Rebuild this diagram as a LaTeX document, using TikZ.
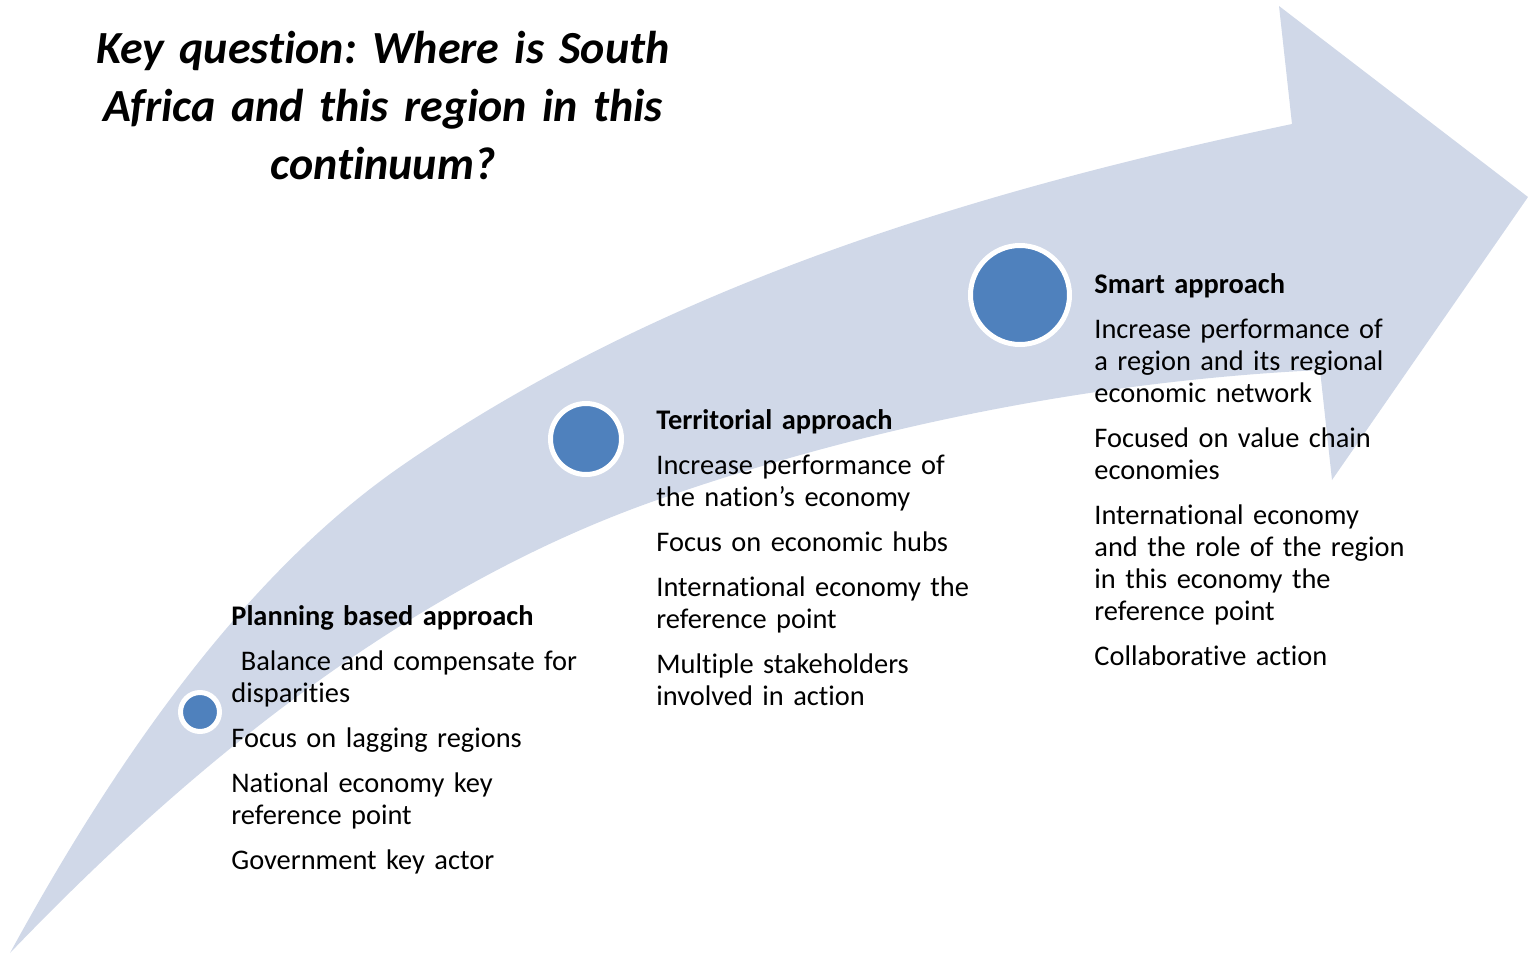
\documentclass[tikz,border=0pt]{standalone}
\usepackage{fontspec}
\setmainfont{Carlito}[Ligatures=NoCommon]
\definecolor{BandBlue}{HTML}{D0D8E8}
\definecolor{DotBlue}{HTML}{4F81BD}
\usepackage{tikz}
\usetikzlibrary{positioning}
\newcommand{\itemgap}{\\[6.5pt]}
\frenchspacing

\begin{document}
\begin{tikzpicture}[x=0.5pt,y=-0.5pt,
  dot/.style={circle,fill=DotBlue,draw=white,line width=2.5pt,inner sep=0pt},
  stage/.style={anchor=base west,inner sep=0pt,text width=215pt,align=left,
    font=\fontsize{14.2}{16}\selectfont}]
  \useasboundingbox (0,0) rectangle (1528,959);

  % curved band with its arrow head
  \fill[BandBlue] (10,953) .. controls (106,777) and (236,581) .. (400,467)
    .. controls (662,285) and (978,190) .. (1292,124)
    -- (1279,6) -- (1528,197) -- (1332,480) -- (1320,370)
    .. controls (1095,381) and (869,426) .. (657,500)
    .. controls (409,587) and (191,764) .. (10,953) -- cycle;

  \node[anchor=base,inner sep=0pt,text width=320pt,align=center,
    font=\fontsize{23}{29}\selectfont\bfseries\itshape] (question) at (383,63)
    {Key question: Where is South\\Africa and this region in this\\continuum?};

  % the three stages
  \node[dot,minimum size=19.5pt] (plandot) at (200,712) {};
  \node[dot,minimum size=35.5pt] (terrdot) at (586,439) {};
  \node[dot,minimum size=49.5pt] (smartdot) at (1020,295) {};

  \node[stage] (plan) at (231,625) {\textbf{Planning based approach}\itemgap
    \ Balance and compensate for\\disparities\itemgap
    Focus on lagging regions\itemgap
    National economy key\\reference point\itemgap
    Government key actor};
  \node[stage] (terr) at (656,429) {\textbf{Territorial approach}\itemgap
    Increase performance of\\the nation’s economy\itemgap
    Focus on economic hubs\itemgap
    International economy the\\reference point\itemgap
    Multiple stakeholders\\involved in action};
  \node[stage] (smart) at (1094,293) {\textbf{Smart approach}\itemgap
    Increase performance of\\a region and its regional\\economic network\itemgap
    Focused on value chain\\economies\itemgap
    International economy\\and the role of the region\\in this economy the\\reference point\itemgap
    Collaborative action};
\end{tikzpicture}
\end{document}
